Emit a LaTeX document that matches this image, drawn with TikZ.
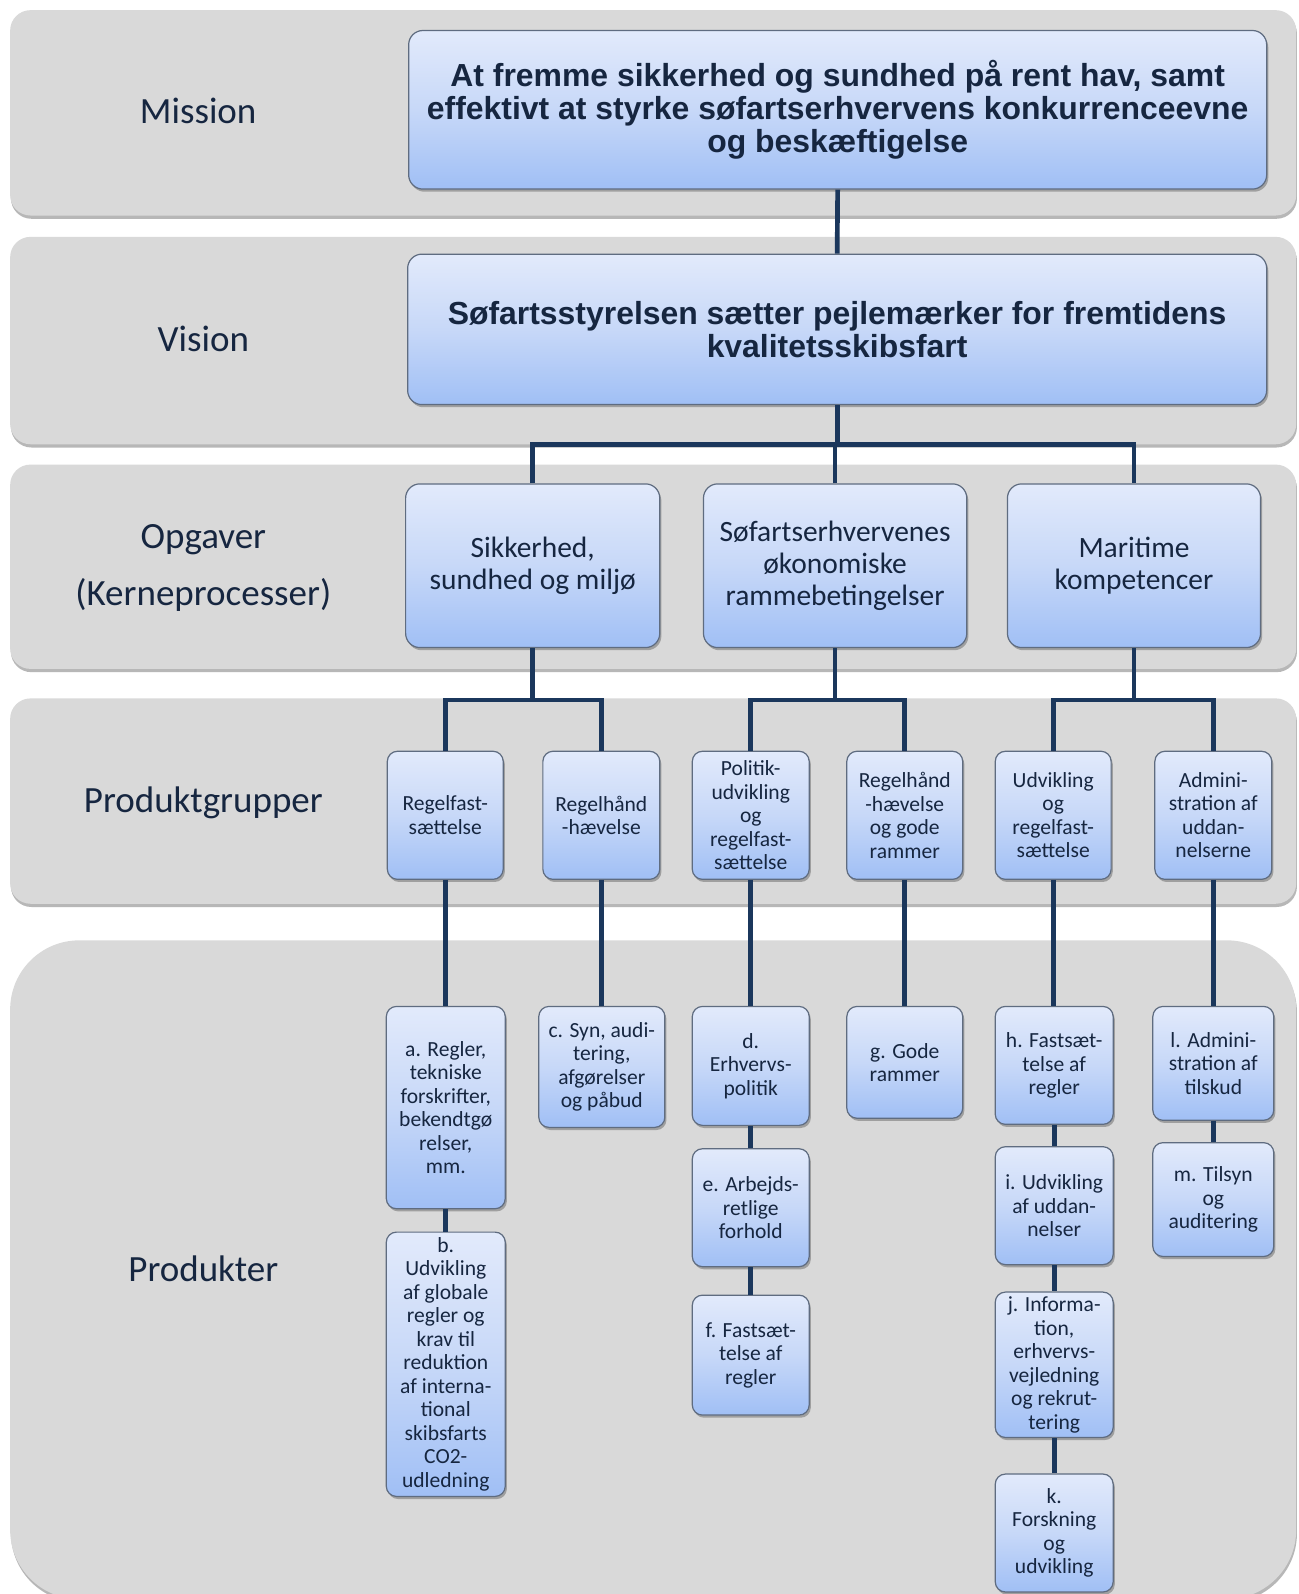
\documentclass[tikz,border=0pt]{standalone}
\usepackage{fontspec}
\setmainfont{Carlito}
\newfontfamily\hdfont{Liberation Sans}
\usetikzlibrary{shadows}
\definecolor{bandc}{RGB}{217,217,217}
\definecolor{boxtop}{RGB}{226,234,251}
\definecolor{boxmid}{RGB}{199,216,248}
\definecolor{boxbot}{RGB}{160,191,245}
\definecolor{boxline}{RGB}{95,108,128}
\definecolor{linkc}{RGB}{27,55,92}
\definecolor{txtc}{RGB}{22,38,64}
\newcommand\mybox[7]{\node[#6, minimum width={(#4-#2)*0.5pt}, minimum height={(#5-#3)*0.5pt}] (#1) at ({(#2+#4)/2},{(#3+#5)/2}) {#7};}
\begin{document}
\begin{tikzpicture}[x=0.5pt,y=-0.5pt,
  band/.style={fill=bandc, rounded corners=10pt,
    drop shadow={shadow xshift=0.4pt,shadow yshift=-1.6pt,fill=black!70,opacity=0.4}},
  lab/.style={text=txtc, align=center, font=\fontsize{18.2}{28}\selectfont},
  basebox/.style={top color=boxtop, bottom color=boxbot, middle color=boxmid,
    draw=boxline, line width=0.6pt, inner sep=0pt, align=center, text=txtc,
    drop shadow={shadow xshift=0.8pt,shadow yshift=-1.3pt,fill=black!80,opacity=0.35}},
  hbox/.style={basebox, rounded corners=7pt, font=\hdfont\bfseries\fontsize{15.7}{16.2}\selectfont},
  obox/.style={basebox, rounded corners=7pt, font=\fontsize{14.5}{15.9}\selectfont},
  pbox/.style={basebox, rounded corners=5pt, font=\fontsize{10.6}{11.55}\selectfont},
  link/.style={draw=linkc, line width=2.3pt}
]
\useasboundingbox (0,0) rectangle (1277,1568);
\fill[white] (0,0) rectangle (1277,1568);

% bands
\path[band] (10,10) rectangle (1275,212);
\path[band] (10,233) rectangle (1275,437);
\path[band] (10,457) rectangle (1275,658);
\path[band] (10,687) rectangle (1275,889);
\path[band, rounded corners=34pt] (10,925) rectangle (1275,1573);

% labels
\node[lab] (lmis) at (195,109) {Mission};
\node[lab] (lvis) at (200,333) {Vision};
\node[lab] (lopg) at (200,559) {Opgaver\\(Kerneprocesser)};
\node[lab] (lgrp) at (200,790) {Produktgrupper};
\node[lab] (lprd) at (200,1248) {Produkter};

% top boxes
\mybox{mis}{402}{30}{1246}{186}{hbox}{At fremme sikkerhed og sundhed på rent hav, samt\\effektivt at styrke søfartserhvervens konkurrenceevne\\og beskæftigelse}
\mybox{vis}{401}{250}{1246}{398}{hbox}{Søfartsstyrelsen sætter pejlemærker for fremtidens\\kvalitetsskibsfart}

% opgaver
\mybox{sik}{399}{476}{649}{637}{obox}{Sikkerhed,\\sundhed og miljø}
\mybox{sof}{692}{476}{951}{637}{obox}{Søfartserhvervenes\\økonomiske\\rammebetingelser}
\mybox{mar}{991}{476}{1240}{637}{obox}{Maritime\\kompetencer}

% produktgrupper
\mybox{ga}{381}{739}{495}{865}{pbox}{Regelfast-\\sættelse}
\mybox{gb}{534}{739}{649}{865}{pbox}{Regelhånd\\-hævelse}
\mybox{gc}{681}{739}{796}{865}{pbox}{Politik-\\udvikling\\og\\regelfast-\\sættelse}
\mybox{gd}{833}{739}{947}{865}{pbox}{Regelhånd\\-hævelse\\og gode\\rammer}
\mybox{ge}{979}{739}{1093}{865}{pbox}{Udvikling\\og\\regelfast-\\sættelse}
\mybox{gf}{1136}{739}{1251}{865}{pbox}{Admini-\\stration af\\uddan-\\nelserne}

% produkter
\mybox{pa}{380}{990}{497}{1189}{pbox}{a. Regler,\\tekniske\\forskrifter,\\bekendtgø\\relser,\\mm.}
\mybox{pb}{380}{1212}{497}{1472}{pbox}{b.\\Udvikling\\af globale\\regler og\\krav til\\reduktion\\af interna-\\tional\\skibsfarts\\CO2-\\udledning}
\mybox{pc}{530}{990}{654}{1109}{pbox}{c. Syn, audi-\\tering,\\afgørelser\\og påbud}
\mybox{pd}{681}{990}{796}{1107}{pbox}{d.\\Erhvervs-\\politik}
\mybox{pe}{681}{1130}{796}{1246}{pbox}{e. Arbejds-\\retlige\\forhold}
\mybox{pf}{681}{1274}{796}{1392}{pbox}{f. Fastsæt-\\telse af\\regler}
\mybox{pg}{833}{990}{947}{1100}{pbox}{g. Gode\\rammer}
\mybox{ph}{979}{990}{1095}{1106}{pbox}{h. Fastsæt-\\telse af\\regler}
\mybox{pi}{979}{1128}{1095}{1244}{pbox}{i. Udvikling\\af uddan-\\nelser}
\mybox{pj}{979}{1271}{1095}{1414}{pbox}{j. Informa-\\tion,\\erhvervs-\\vejledning\\og rekrut-\\tering}
\mybox{pk}{979}{1450}{1095}{1566}{pbox}{k.\\Forskning\\og\\udvikling}
\mybox{pl}{1134}{990}{1253}{1102}{pbox}{l. Admini-\\stration af\\tilskud}
\mybox{pm}{1134}{1124}{1253}{1236}{pbox}{m. Tilsyn\\og\\auditering}

% connectors
\draw[link] (mis.south) -- (vis.north);
\coordinate (vbus) at (823,437);
\draw[link] (vis.south) -- (vis.south |- vbus);
\draw[link] (sik.north) |- (vbus) -| (mar.north);
\draw[link] (sof.north) -- (sof.north |- vbus);

\path (sik.south) ++(0,51) coordinate (b1);
\path (sof.south) ++(0,51) coordinate (b2);
\path (mar.south) ++(0,51) coordinate (b3);
\draw[link] (sik.south) -- (b1);
\draw[link] (sof.south) -- (b2);
\draw[link] (mar.south) -- (b3);
\draw[link] (ga.north) |- (b1) -| (gb.north);
\draw[link] (gc.north) |- (b2) -| (gd.north);
\draw[link] (ge.north) |- (b3) -| (gf.north);

\draw[link] (ga.south) -- (ga.south |- pa.north);
\draw[link] (gb.south) -- (gb.south |- pc.north);
\draw[link] (gc.south) -- (gc.south |- pd.north);
\draw[link] (gd.south) -- (gd.south |- pg.north);
\draw[link] (ge.south) -- (ge.south |- ph.north);
\draw[link] (gf.south) -- (gf.south |- pl.north);

\draw[link] (pa.south) -- (pa.south |- pb.north);
\draw[link] (pd.south) -- (pd.south |- pe.north);
\draw[link] (pe.south) -- (pe.south |- pf.north);
\draw[link] (ph.south) -- (ph.south |- pi.north);
\draw[link] (pi.south) -- (pi.south |- pj.north);
\draw[link] (pj.south) -- (pj.south |- pk.north);
\draw[link] (pl.south) -- (pl.south |- pm.north);
\end{tikzpicture}
\end{document}
